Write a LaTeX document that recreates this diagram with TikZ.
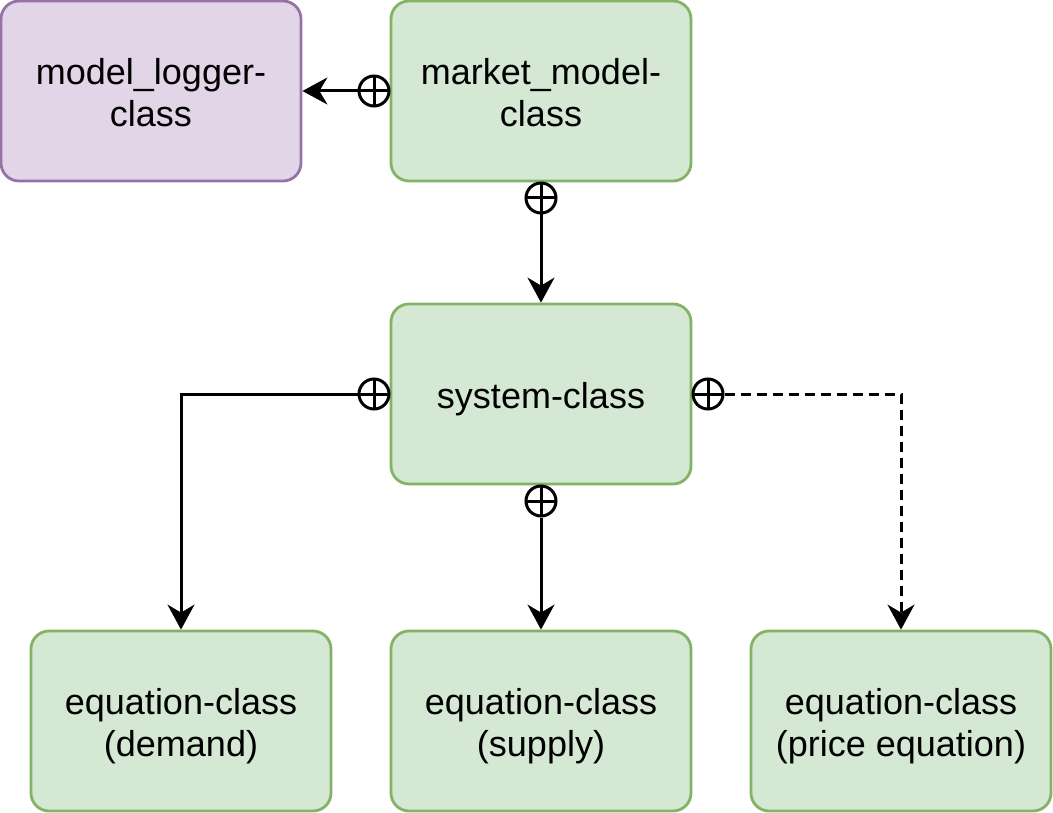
\documentclass[tikz,border=0pt]{standalone}
\usepackage{fontspec}
\setmainfont{Liberation Sans}
\usetikzlibrary{arrows.meta}
\definecolor{gfill}{HTML}{D5E8D4}
\definecolor{gdraw}{HTML}{82B366}
\definecolor{pfill}{HTML}{E1D5E7}
\definecolor{pdraw}{HTML}{9673A6}
\newcommand{\boxtext}[1]{\raisebox{-6pt}[\height][\depth]{\begin{tabular}{@{}c@{}}#1\end{tabular}}}
\tikzset{
  box/.style={rectangle, rounded corners=18pt, minimum width=300pt, minimum height=180pt,
    inner sep=0pt, line width=2.8pt, align=center, font=\fontsize{36}{42}\selectfont},
  gbox/.style={box, draw=gdraw, fill=gfill},
  pbox/.style={box, draw=pdraw, fill=pfill},
  cplus/.style={circle, draw=black, line width=3pt, minimum size=30pt, inner sep=0pt,
    path picture={\draw[line width=3pt] (path picture bounding box.west) -- (path picture bounding box.east)
      (path picture bounding box.north) -- (path picture bounding box.south);}},
  conn/.style={line width=3pt, -{Stealth[length=25pt, width=27pt, inset=8pt]}},
  dconn/.style={conn, dash pattern=on 10pt off 6pt},
}
\begin{document}
\begin{tikzpicture}[x=1pt, y=-1pt]
\useasboundingbox (0,0) rectangle (1053,813);
\node[pbox] (logger) at (151,91) {\boxtext{model\_logger-\\class}};
\node[gbox] (market) at (541,91) {\boxtext{market\_model-\\class}};
\node[gbox] (system) at (541,394) {\boxtext{system-class}};
\node[gbox] (demand) at (181,721) {\boxtext{equation-class\\(demand)}};
\node[gbox] (supply) at (541,721) {\boxtext{equation-class\\(supply)}};
\node[gbox] (price) at (901,721) {\boxtext{equation-class\\(price equation)}};

\node[cplus] (m1) at (374,91) {};
\node[cplus] (m2) at (541,198) {};
\node[cplus] (m3) at (374,394) {};
\node[cplus] (m4) at (541,501) {};
\node[cplus] (m5) at (708,394) {};

\draw[conn] (m1.west) -- (logger.east);
\draw[conn] (m2.south) -- (system.north);
\draw[conn] (m3.west) -| (demand.north);
\draw[conn] (m4.south) -- (supply.north);
\draw[dconn] (m5.east) -| (price.north);
\end{tikzpicture}
\end{document}
